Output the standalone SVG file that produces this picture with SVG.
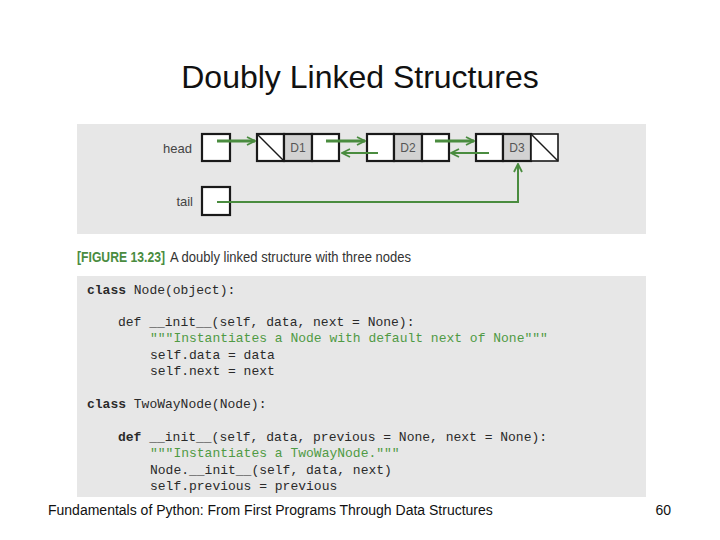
<svg xmlns="http://www.w3.org/2000/svg" width="720" height="540" viewBox="0 0 720 540">
<defs>
<style>
.panel{fill:#e7e7e7}
.box{fill:#ffffff;stroke:#1a1a1a;stroke-width:2.2}
.data{fill:#d2d2d2;stroke:#1a1a1a;stroke-width:2.2}
.diag{stroke:#1a1a1a;stroke-width:1.5}
.dl{font-family:"Liberation Sans",Arial,sans-serif;font-size:12px;fill:#555}
.lbl{font-family:"Liberation Sans",Arial,sans-serif;font-size:13px;fill:#444}
.con{fill:none;stroke:#4a8c3f}
.code{font-family:"Liberation Mono","Courier New",monospace;font-size:13px;fill:#2a2a2a}
.kw{font-weight:bold}
.doc{fill:#4f9a44}
</style>
<marker id="ah" viewBox="0 0 10 10" refX="9" refY="5" markerWidth="10" markerHeight="10" markerUnits="userSpaceOnUse" orient="auto">
<path d="M1,1 L9,5 L1,9" fill="none" stroke="#4a8c3f" stroke-width="1.8"/>
</marker>
</defs>
<rect width="720" height="540" fill="#ffffff"/>
<text x="360" y="88" text-anchor="middle" font-family="'Liberation Sans',Arial,sans-serif" font-size="32" fill="#111">Doubly Linked Structures</text>
<rect class="panel" x="77" y="124" width="569" height="110"/>
<g id="head">
<text class="lbl" x="192" y="153" text-anchor="end">head</text>
<rect class="box" x="202" y="134" width="28" height="27"/>
</g>
<g id="tail">
<text class="lbl" x="193" y="206" text-anchor="end">tail</text>
<rect class="box" x="202" y="187" width="28" height="28"/>
</g>
<g id="node1">
<rect class="box" x="257" y="134" width="27" height="27"/>
<line class="diag" x1="257" y1="134" x2="284" y2="161"/>
<rect class="data" x="284" y="134" width="28" height="27"/>
<text class="dl" x="298" y="152" text-anchor="middle">D1</text>
<rect class="box" x="312" y="134" width="27" height="27"/>
</g>
<g id="node2">
<rect class="box" x="367" y="134" width="27" height="27"/>
<rect class="data" x="394" y="134" width="28" height="27"/>
<text class="dl" x="408" y="152" text-anchor="middle">D2</text>
<rect class="box" x="422" y="134" width="27" height="27"/>
</g>
<g id="node3">
<rect class="box" x="476" y="134" width="27" height="27"/>
<rect class="data" x="503" y="134" width="28" height="27"/>
<text class="dl" x="517" y="152" text-anchor="middle">D3</text>
<rect class="box" x="531" y="134" width="27" height="27" style="stroke-width:1.6"/>
<line class="diag" x1="531" y1="134" x2="558" y2="161"/>
</g>
<g id="connectors">
<line class="con" x1="217" y1="141" x2="255" y2="141" stroke-width="3" marker-end="url(#ah)"/>
<line class="con" x1="326" y1="141" x2="365" y2="141" stroke-width="3" marker-end="url(#ah)"/>
<line class="con" x1="378" y1="153" x2="342" y2="153" stroke-width="2" marker-end="url(#ah)"/>
<line class="con" x1="435" y1="141" x2="474" y2="141" stroke-width="3" marker-end="url(#ah)"/>
<line class="con" x1="489" y1="153" x2="451" y2="153" stroke-width="2" marker-end="url(#ah)"/>
<polyline class="con" points="217,202 518,202 518,164" stroke-width="2" marker-end="url(#ah)"/>
</g>
<text x="77" y="262" font-family="'Liberation Sans',Arial,sans-serif" font-size="14"><tspan font-weight="bold" fill="#4a8c3f" textLength="88" lengthAdjust="spacingAndGlyphs">[FIGURE 13.23]</tspan><tspan x="170" fill="#333" textLength="241" lengthAdjust="spacingAndGlyphs">A doubly linked structure with three nodes</tspan></text>
<rect class="panel" x="77" y="276" width="569" height="221"/>
<g id="code">
<text class="code" x="87" y="294"><tspan class="kw">class</tspan> Node(object):</text>
<text class="code" x="118" y="326">def __init__(self, data, next = None):</text>
<text class="code doc" x="150" y="342">"""Instantiates a Node with default next of None"""</text>
<text class="code" x="150" y="359">self.data = data</text>
<text class="code" x="150" y="375">self.next = next</text>
<text class="code" x="87" y="408"><tspan class="kw">class</tspan> TwoWayNode(Node):</text>
<text class="code" x="118" y="441"><tspan class="kw">def</tspan> __init__(self, data, previous = None, next = None):</text>
<text class="code doc" x="150" y="457">"""Instantiates a TwoWayNode."""</text>
<text class="code" x="150" y="474">Node.__init__(self, data, next)</text>
<text class="code" x="150" y="490">self.previous = previous</text>
</g>
<text x="48" y="515" font-family="'Liberation Sans',Arial,sans-serif" font-size="14" fill="#111">Fundamentals of Python: From First Programs Through Data Structures</text>
<text x="671" y="515" text-anchor="end" font-family="'Liberation Sans',Arial,sans-serif" font-size="14" fill="#111">60</text>
</svg>
